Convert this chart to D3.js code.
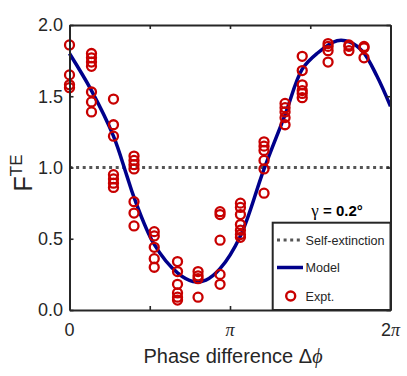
<!DOCTYPE html>
<html>
<head>
<meta charset="utf-8">
<script src="https://cdn.jsdelivr.net/npm/d3@7"></script>
<style>
  body { margin: 0; background: #fff; }
  svg { font-family: Arial, "Liberation Sans", sans-serif; }
</style>
</head>
<body>
<div id="chart"></div>
<script>
// phase in units of pi
var exptPhase = [0, 0.137, 0.274, 0.402, 0.528, 0.673, 0.801, 0.938, 1.065, 1.212, 1.343, 1.450, 1.611, 1.741, 1.835];
var exptF = [
  [1.86, 1.65, 1.58, 1.56],
  [1.80, 1.77, 1.74, 1.71, 1.53, 1.46, 1.39],
  [1.48, 1.30, 1.22, 0.95, 0.92, 0.89, 0.86],
  [1.08, 1.05, 1.02, 0.99, 0.76, 0.68, 0.59],
  [0.55, 0.52, 0.44, 0.36, 0.30],
  [0.34, 0.27, 0.18, 0.12, 0.09, 0.07],
  [0.27, 0.24, 0.22, 0.09],
  [0.69, 0.67, 0.49, 0.25, 0.18],
  [0.75, 0.72, 0.67, 0.60, 0.56, 0.53, 0.51],
  [1.18, 1.15, 1.12, 1.05, 0.99, 0.82],
  [1.45, 1.42, 1.39, 1.35, 1.30],
  [1.78, 1.68, 1.58, 1.54, 1.52, 1.49],
  [1.87, 1.85, 1.82, 1.74],
  [1.86, 1.85, 1.82],
  [1.85, 1.84, 1.77]
];

// model curve
var modelPhase = [0, 0.137, 0.274, 0.355, 0.402, 0.528, 0.673, 0.769, 0.850, 0.938, 1.065, 1.209, 1.343, 1.450, 1.542, 1.667, 1.748, 1.830, 1.916, 2.0];
var modelF = [1.80, 1.54, 1.22, 0.95, 0.79, 0.46, 0.26, 0.20, 0.21, 0.29, 0.52, 0.98, 1.37, 1.69, 1.80, 1.89, 1.88, 1.81, 1.64, 1.43];

var selfExtinction = 1.0;

var xTicks = [0, 0.5, 1, 1.5, 2];
var xTickLabels = ["0", "", "\u03C0", "", "2\u03C0"];
var yTicks = [0, 0.5, 1, 1.5, 2];

var legendItems = ["Self-extinction", "Model", "Expt."];

var width = 407, height = 376;
var axisColor = "#262626";
var red = "#C80000", navy = "#00008B";

var svg = d3.select("#chart").append("svg")
  .attr("width", width)
  .attr("height", height);

var x = d3.scaleLinear().domain([0, 2]).range([69.5, 390.5]);
var y = d3.scaleLinear().domain([0, 2]).range([310, 25]);

//self-extinction dotted line
svg.append("line")
  .attr("x1", x(0)).attr("x2", x(2))
  .attr("y1", y(selfExtinction)).attr("y2", y(selfExtinction))
  .attr("stroke", "#555")
  .attr("stroke-width", 3)
  .attr("stroke-dasharray", "3,3.6");

//model line
var line = d3.line()
  .x(function (d, i) { return x(modelPhase[i]); })
  .y(function (d) { return y(d); })
  .curve(d3.curveCatmullRom.alpha(0.5));

svg.append("path")
  .datum(modelF)
  .attr("d", line)
  .attr("fill", "none")
  .attr("stroke", navy)
  .attr("stroke-width", 3.5);

//experimental points
var points = [];
exptPhase.forEach(function (p, i) {
  exptF[i].forEach(function (v) { points.push({ p: p, v: v }); });
});

svg.selectAll("circle.expt")
  .data(points)
  .enter()
  .append("circle")
  .attr("class", "expt")
  .attr("cx", function (d) { return x(d.p); })
  .attr("cy", function (d) { return y(d.v); })
  .attr("r", 4.5)
  .attr("fill", "none")
  .attr("stroke", red)
  .attr("stroke-width", 2.3);

//axes
function styleAxis(g) {
  g.select(".domain").attr("stroke", axisColor).attr("stroke-width", 2);
  g.selectAll(".tick line").attr("stroke", axisColor).attr("stroke-width", 1.6);
}

svg.append("g")
  .attr("transform", "translate(0,310)")
  .call(d3.axisBottom(x).tickValues(xTicks).tickSizeInner(-4).tickSizeOuter(0).tickFormat(""))
  .call(styleAxis);
svg.append("g")
  .attr("transform", "translate(0,25)")
  .call(d3.axisTop(x).tickValues(xTicks).tickSizeInner(-4).tickSizeOuter(0).tickFormat(""))
  .call(styleAxis);
svg.append("g")
  .attr("transform", "translate(69.5,0)")
  .call(d3.axisLeft(y).tickValues(yTicks).tickSizeInner(-4).tickSizeOuter(0).tickFormat(""))
  .call(styleAxis);
svg.append("g")
  .attr("transform", "translate(390.5,0)")
  .call(d3.axisRight(y).tickValues(yTicks).tickSizeInner(-4).tickSizeOuter(0).tickFormat(""))
  .call(styleAxis);

//y tick labels
svg.selectAll("text.ytick")
  .data(yTicks)
  .enter()
  .append("text")
  .attr("x", 63)
  .attr("y", function (d) { return y(d); })
  .attr("dy", "0.36em")
  .attr("text-anchor", "end")
  .attr("font-size", "18px")
  .attr("fill", axisColor)
  .text(function (d) { return d3.format(".1f")(d); });

//x tick labels, pi in serif italic
xTicks.forEach(function (t, i) {
  var lab = xTickLabels[i];
  if (!lab) return;
  var tx = svg.append("text")
    .attr("x", x(t))
    .attr("y", 335.5)
    .attr("text-anchor", "middle")
    .attr("font-size", "18px")
    .attr("fill", axisColor);
  lab.split("").forEach(function (c) {
    var ts = tx.append("tspan").text(c);
    if (c === "\u03C0") ts.attr("font-family", "'Liberation Serif', serif").attr("font-style", "italic");
  });
});

//axis titles
var xt = svg.append("text")
  .attr("x", 233)
  .attr("y", 362.5)
  .attr("text-anchor", "middle")
  .attr("font-size", "20px")
  .attr("fill", axisColor);
xt.append("tspan").text("Phase difference \u0394");
xt.append("tspan").attr("font-family", "'Liberation Serif', serif").attr("font-style", "italic").text("\u03D5");

var yt = svg.append("text")
  .attr("transform", "translate(32,173) rotate(-90)")
  .attr("text-anchor", "middle")
  .attr("fill", axisColor);
yt.append("tspan").attr("font-size", "25px").text("F");
yt.append("tspan").attr("font-size", "17px").attr("dy", -10).text("TE");

//gamma label
var gt = svg.append("text")
  .attr("x", 337)
  .attr("y", 216)
  .attr("text-anchor", "middle")
  .attr("font-size", "15px")
  .attr("fill", "#000");
gt.append("tspan").attr("font-family", "'Liberation Serif', serif").attr("font-size", "17px").text("\u03B3");
gt.append("tspan").attr("font-weight", "bold").text(" = 0.2\u00B0");

//legend
var legend = svg.append("g");
legend.append("rect")
  .attr("x", 272.7).attr("y", 222.7)
  .attr("width", 390.5 - 272.7).attr("height", 310 - 222.7)
  .attr("fill", "#fff")
  .attr("stroke", axisColor)
  .attr("stroke-width", 2);

var legY = [240, 267.5, 296];
legend.append("line")
  .attr("x1", 277).attr("x2", 302).attr("y1", legY[0]).attr("y2", legY[0])
  .attr("stroke", "#555").attr("stroke-width", 3).attr("stroke-dasharray", "3,3.6");
legend.append("line")
  .attr("x1", 277).attr("x2", 303).attr("y1", legY[1]).attr("y2", legY[1])
  .attr("stroke", navy).attr("stroke-width", 3.5);
legend.append("circle")
  .attr("cx", 290.7).attr("cy", legY[2]).attr("r", 4.5)
  .attr("fill", "none").attr("stroke", red).attr("stroke-width", 2.4);

legend.selectAll("text")
  .data(legendItems)
  .enter()
  .append("text")
  .attr("x", 305.5)
  .attr("y", function (d, i) { return legY[i]; })
  .attr("dy", "0.36em")
  .attr("font-size", "12.6px")
  .attr("fill", axisColor)
  .text(function (d) { return d; });
</script>
</body>
</html>
